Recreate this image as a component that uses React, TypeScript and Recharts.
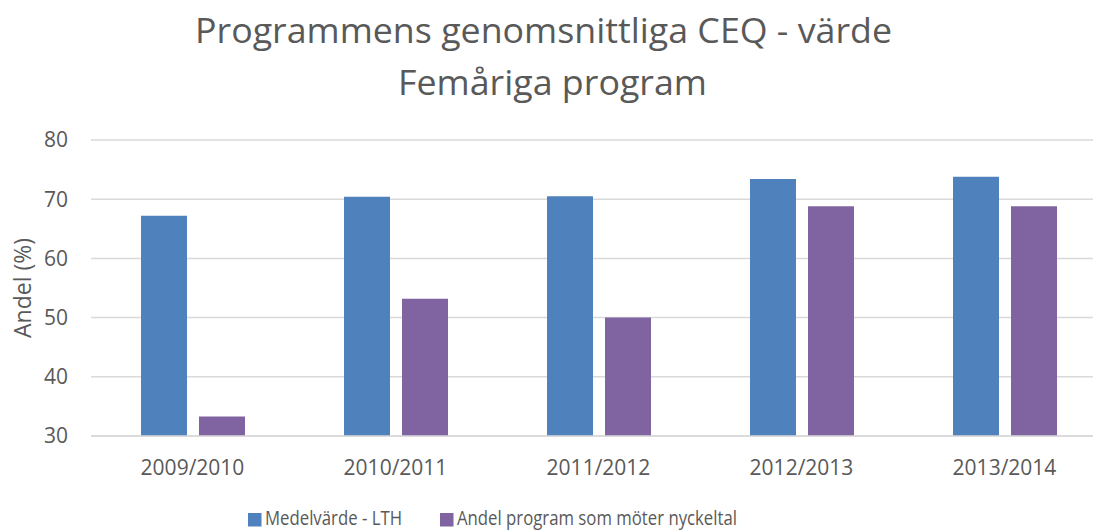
import { Bar, BarChart, CartesianGrid, Label, Legend, XAxis, YAxis } from "recharts";

const categories = ["2009/2010", "2010/2011", "2011/2012", "2012/2013", "2013/2014"];
const medelvarde = [67.2, 70.4, 70.5, 73.4, 73.8];
const andelProgram = [33.3, 53.2, 50.0, 68.8, 68.8];
const yTicks = [30, 40, 50, 60, 70, 80];

const titleLines = ["Programmens genomsnittliga CEQ - värde", "Femåriga program"];
const yLabel = "Andel (%)";
const seriesOrder = ["medel", "andel"];

const font = "'Open Sans', sans-serif";
const textColor = "#595959";
const gridColor = "#d9d9d9";

const chartData = categories.map((name, i) => ({
	name,
	medel: medelvarde[i],
	andel: andelProgram[i],
}));

const tickStyle = { fill: textColor, fontSize: 21, fontFamily: font };

// legend layout (x of swatch, text width) to mimic the narrow Office font
const legendItems = [
	{ x: 248, textWidth: 137 },
	{ x: 440, textWidth: 280 },
];

function ChartLegend({ payload }: any) {
	return (
		<svg width={1093} height={24} style={{ display: "block", overflow: "visible" }}>
			{(payload || []).map((entry: any, i: number) => {
				const it = legendItems[i];
				return (
					<g key={entry.value}>
						<rect x={it.x} y={7} width={13.5} height={13.5} fill={entry.color} />
						<text
							x={it.x + 17}
							y={18.5}
							fontSize={19.5}
							fontFamily={font}
							fill={textColor}
							textLength={it.textWidth}
							lengthAdjust="spacingAndGlyphs"
						>
							{entry.value}
						</text>
					</g>
				);
			})}
		</svg>
	);
}

function YLabel({ viewBox }: any) {
	if (!viewBox) return null;
	const x = viewBox.x + 22;
	const y = viewBox.y + viewBox.height / 2;
	return (
		<text
			x={x}
			y={y}
			transform={`rotate(-90 ${x} ${y})`}
			textAnchor="middle"
			dominantBaseline="central"
			fill={textColor}
			fontSize={23}
			fontFamily={font}
		>
			{yLabel}
		</text>
	);
}

export default function App() {
	return (
		<div
			style={{
				position: "absolute",
				left: 0,
				top: 0,
				width: 1093,
				height: 530,
				overflow: "hidden",
				background: "#fff",
			}}
		>
			<BarChart
				width={1110}
				height={530}
				data={chartData}
				margin={{ top: 140, right: 4, left: 0, bottom: 20 }}
				barSize={46}
				barGap={12}
			>
				<CartesianGrid vertical={false} stroke={gridColor} strokeWidth={1.5} />
				<XAxis
					dataKey="name"
					tick={tickStyle}
					axisLine={{ stroke: gridColor, strokeWidth: 1.5 }}
					tickLine={false}
					tickSize={0}
					tickMargin={24}
					height={50}
					interval={0}
				/>
				<YAxis
					domain={[30, 80]}
					ticks={yTicks}
					tick={tickStyle}
					axisLine={false}
					tickLine={false}
					tickSize={0}
					tickMargin={23}
					width={91}
				>
					<Label content={<YLabel />} />
				</YAxis>
				<Legend
					content={<ChartLegend />}
					itemSorter={(item: any) => seriesOrder.indexOf(item.dataKey)}
					wrapperStyle={{ top: 506, left: 0, bottom: "auto", width: 1093, height: 24 }}
				/>
				<Bar dataKey="medel" name="Medelvärde - LTH" fill="#4F81BD" isAnimationActive={false} />
				<Bar dataKey="andel" name="Andel program som möter nyckeltal" fill="#8064A2" isAnimationActive={false} />
			</BarChart>
			<svg
				width={1093}
				height={110}
				style={{ position: "absolute", left: 0, top: 0, pointerEvents: "none" }}
			>
				<text x={195} y={43} fontSize={34} fontFamily={font} fill={textColor} textLength={697} lengthAdjust="spacingAndGlyphs">
					{titleLines[0]}
				</text>
				<text x={398} y={95} fontSize={34} fontFamily={font} fill={textColor} textLength={309} lengthAdjust="spacingAndGlyphs">
					{titleLines[1]}
				</text>
			</svg>
		</div>
	);
}
